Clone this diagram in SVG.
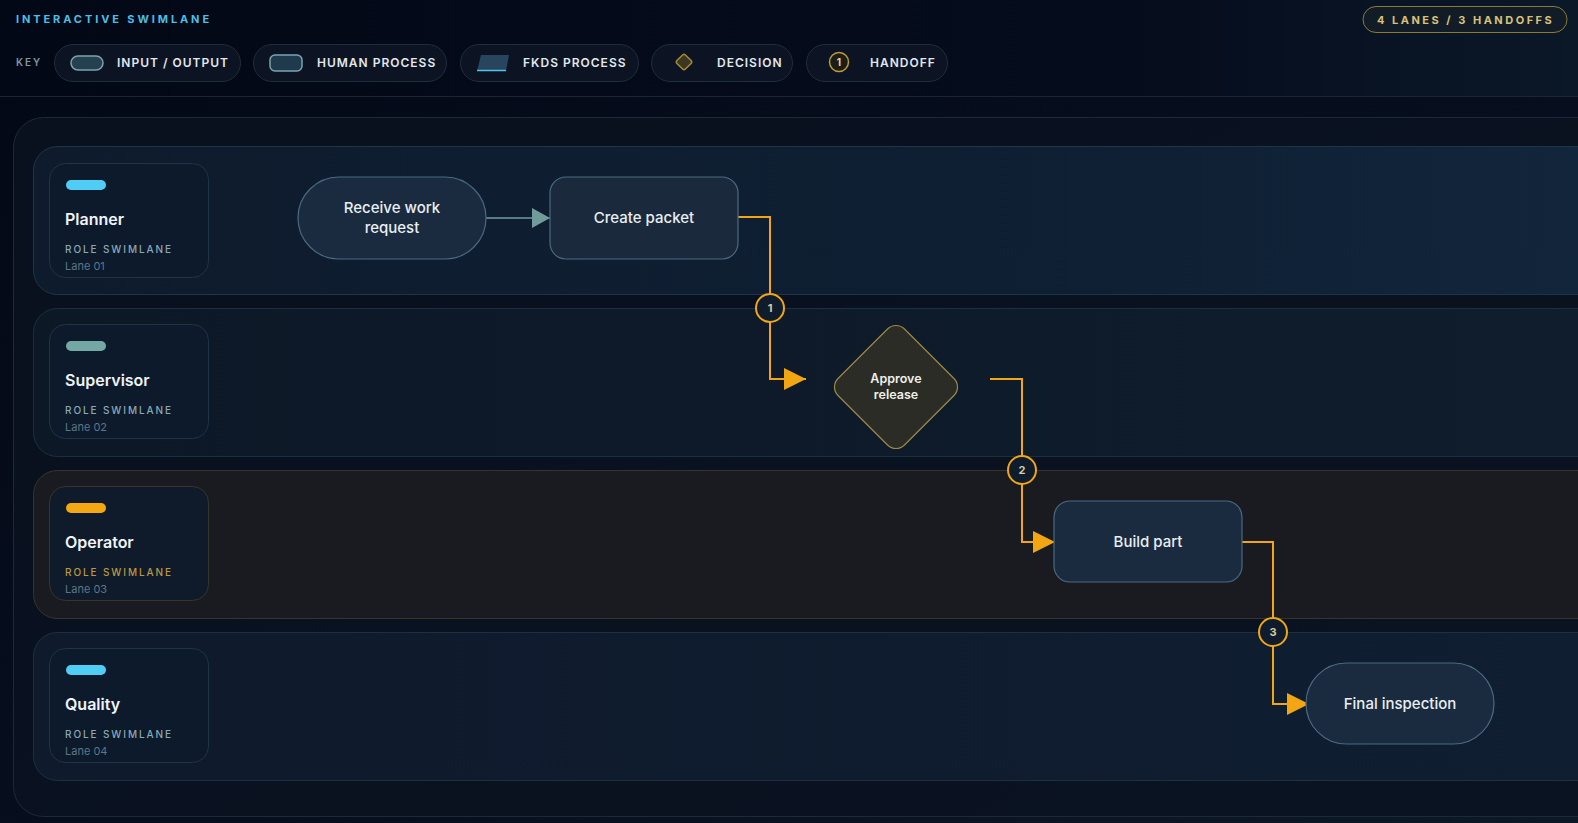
<svg xmlns="http://www.w3.org/2000/svg" width="1578" height="823" viewBox="0 0 1578 823">
<defs>
<linearGradient id="bg" x1="0" y1="0" x2="1" y2="1">
<stop offset="0" stop-color="#030816"/>
<stop offset="0.6" stop-color="#070f1e"/>
<stop offset="1" stop-color="#0d1826"/>
</linearGradient>
<linearGradient id="hdr" x1="0" y1="0" x2="1" y2="0">
<stop offset="0" stop-color="#030816"/>
<stop offset="0.7" stop-color="#050c1c"/>
<stop offset="1" stop-color="#0b1828"/>
</linearGradient>
<linearGradient id="lane1" x1="0" y1="0" x2="1" y2="0">
<stop offset="0" stop-color="#0e1b2d"/>
<stop offset="0.7" stop-color="#0f2034"/>
<stop offset="1" stop-color="#12263c"/>
</linearGradient>
<linearGradient id="lane2" x1="0" y1="0" x2="1" y2="0">
<stop offset="0" stop-color="#0d1827"/>
<stop offset="1" stop-color="#0f1d2c"/>
</linearGradient>
<linearGradient id="lane3" x1="0" y1="0" x2="1" y2="0">
<stop offset="0" stop-color="#191b21"/>
<stop offset="1" stop-color="#1a1b20"/>
</linearGradient>
<linearGradient id="lane4" x1="0" y1="0" x2="1" y2="0">
<stop offset="0" stop-color="#0f1a2c"/>
<stop offset="1" stop-color="#0f1e31"/>
</linearGradient>
<marker id="ah" viewBox="0 0 22 22" refX="22" refY="11" markerWidth="22" markerHeight="22" markerUnits="userSpaceOnUse" orient="auto">
<path d="M0,0 L22,11 L0,22 Z" fill="#f2a611"/>
</marker>
<marker id="ahg" viewBox="0 0 18 20" refX="18" refY="10" markerWidth="18" markerHeight="20" markerUnits="userSpaceOnUse" orient="auto">
<path d="M0,0 L18,10 L0,20 Z" fill="#6f9b9a"/>
</marker>
</defs>
<style>
.hd{font-family:Inter,"Liberation Sans",sans-serif;font-weight:700;font-size:11px;letter-spacing:2.9px;fill:#4cbfe6}
.key{font-family:Inter,"Liberation Sans",sans-serif;font-weight:600;font-size:10px;letter-spacing:2px;fill:#7f95a3}
.pill{fill:#0c1424;stroke:#1f2d3c;stroke-width:1}
.kl{font-family:Inter,"Liberation Sans",sans-serif;font-weight:600;font-size:12px;letter-spacing:1px;fill:#e2e8ee}
.badge{font-family:Inter,"Liberation Sans",sans-serif;font-weight:700;font-size:11px;letter-spacing:2.5px;fill:#d8c27a}
.card{fill:#0d1a2b;stroke:#1e3448;stroke-width:1}
.ttl{font-family:Inter,"Liberation Sans",sans-serif;font-weight:600;font-size:16px;fill:#eef3f7}
.role{font-family:Inter,"Liberation Sans",sans-serif;font-weight:500;font-size:10px;letter-spacing:1.9px;fill:#8aa9b6}
.ln{font-family:Inter,"Liberation Sans",sans-serif;font-size:11px;fill:#5d7687}
.node{fill:#1a2b40;stroke:#4a6a80;stroke-width:1.2}
.nt{font-family:Inter,"Liberation Sans",sans-serif;font-weight:500;font-size:15px;fill:#e8eef2;text-anchor:middle}
.conn{fill:none;stroke:#f2a611;stroke-width:2}
.hc{fill:#0e1c2e;stroke:#f2a611;stroke-width:2}
.ht{font-family:Inter,"Liberation Sans",sans-serif;font-weight:700;font-size:11px;fill:#d8cba0;text-anchor:middle}
</style>
<rect x="0" y="0" width="1578" height="823" fill="url(#bg)"/>
<rect x="0" y="0" width="1578" height="96" fill="url(#hdr)"/>
<line x1="0" y1="96.5" x2="1578" y2="96.5" stroke="#1a2636" stroke-width="1"/>

<g id="header">
<text class="hd" x="16" y="23">INTERACTIVE SWIMLANE</text>
<rect x="1363" y="6.5" width="204" height="26" rx="13" fill="#121c26" stroke="#8a7a3a" stroke-width="1"/>
<text class="badge" x="1377" y="24">4 LANES / 3 HANDOFFS</text>
</g>

<g id="legend">
<text class="key" x="16" y="66">KEY</text>
<rect class="pill" x="54.5" y="44.5" width="186" height="37" rx="18.5"/>
<rect x="71" y="56" width="32" height="14" rx="7" fill="#25404f" stroke="#7aa3b0" stroke-width="1.5"/>
<text class="kl" x="117" y="66.5">INPUT / OUTPUT</text>
<rect class="pill" x="253.5" y="44.5" width="193" height="37" rx="18.5"/>
<rect x="270" y="55" width="32" height="16" rx="5" fill="#1f3a4c" stroke="#7aa3b0" stroke-width="1.5"/>
<text class="kl" x="317" y="66.5">HUMAN PROCESS</text>
<rect class="pill" x="460.5" y="44.5" width="178" height="37" rx="18.5"/>
<polygon points="481,55 509,55 506,71 477,71" fill="#27465e"/>
<line x1="477" y1="70.5" x2="506" y2="70.5" stroke="#4fc3e8" stroke-width="1.5"/>
<text class="kl" x="523" y="66.5">FKDS PROCESS</text>
<rect class="pill" x="651.5" y="44.5" width="141" height="37" rx="18.5"/>
<rect x="678" y="56" width="12" height="12" rx="2" transform="rotate(45 684 62)" fill="#3d3720" stroke="#a08a3a" stroke-width="1.5"/>
<text class="kl" x="717" y="66.5">DECISION</text>
<rect class="pill" x="806.5" y="44.5" width="141" height="37" rx="18.5"/>
<circle cx="839" cy="62" r="9.5" fill="#1e1d15" stroke="#b89a3a" stroke-width="1.5"/>
<text x="839" y="66" font-family="Inter,'Liberation Sans',sans-serif" font-weight="700" font-size="10" fill="#e0d6b0" text-anchor="middle">1</text>
<text class="kl" x="870" y="66.5">HANDOFF</text>
</g>

<rect id="board" x="13.5" y="117.5" width="1620" height="699" rx="30" fill="#0a1321" fill-opacity="0.85" stroke="#1b2a3a" stroke-width="1"/>

<g id="lane-planner">
<rect x="33.5" y="146.5" width="1600" height="148" rx="24" fill="url(#lane1)" stroke="#1e3448"/>
<rect class="card" x="49.5" y="163.5" width="159" height="114" rx="16"/>
<rect x="66" y="180" width="40" height="10" rx="5" fill="#4fcdf5"/>
<text class="ttl" x="65" y="225">Planner</text>
<text class="role" x="65" y="253">ROLE SWIMLANE</text>
<text class="ln" x="65" y="270">Lane 01</text>
</g>
<g id="lane-supervisor">
<rect x="33.5" y="308.5" width="1600" height="148" rx="24" fill="url(#lane2)" stroke="#1b2f42"/>
<rect class="card" x="49.5" y="324.5" width="159" height="114" rx="16"/>
<rect x="66" y="341" width="40" height="10" rx="5" fill="#74a8a4"/>
<text class="ttl" x="65" y="386">Supervisor</text>
<text class="role" x="65" y="414">ROLE SWIMLANE</text>
<text class="ln" x="65" y="431">Lane 02</text>
</g>
<g id="lane-operator">
<rect x="33.5" y="470.5" width="1600" height="148" rx="24" fill="url(#lane3)" stroke="#35352a"/>
<rect class="card" x="49.5" y="486.5" width="159" height="114" rx="16" style="stroke:#38362a;fill:#0f1a2a"/>
<rect x="66" y="503" width="40" height="10" rx="5" fill="#f3a712"/>
<text class="ttl" x="65" y="548">Operator</text>
<text class="role" x="65" y="576" style="fill:#b89a45">ROLE SWIMLANE</text>
<text class="ln" x="65" y="593">Lane 03</text>
</g>
<g id="lane-quality">
<rect x="33.5" y="632.5" width="1600" height="148" rx="24" fill="url(#lane4)" stroke="#1b3044"/>
<rect class="card" x="49.5" y="648.5" width="159" height="114" rx="16"/>
<rect x="66" y="665" width="40" height="10" rx="5" fill="#4fcdf5"/>
<text class="ttl" x="65" y="710">Quality</text>
<text class="role" x="65" y="738">ROLE SWIMLANE</text>
<text class="ln" x="65" y="755">Lane 04</text>
</g>

<g id="connectors">
<line x1="486" y1="218" x2="550" y2="218" stroke="#5b7a88" stroke-width="2" marker-end="url(#ahg)"/>
<polyline class="conn" points="738,217 770,217 770,379 806,379" marker-end="url(#ah)"/>
<polyline class="conn" points="990,379 1022,379 1022,542 1055,542" marker-end="url(#ah)"/>
<polyline class="conn" points="1242,542 1273,542 1273,704 1309,704" marker-end="url(#ah)"/>
</g>

<g id="handoff-1"><circle class="hc" cx="770" cy="308" r="14"/><text class="ht" x="770" y="312">1</text></g>
<g id="handoff-2"><circle class="hc" cx="1022" cy="470" r="14"/><text class="ht" x="1022" y="474">2</text></g>
<g id="handoff-3"><circle class="hc" cx="1273" cy="632" r="14"/><text class="ht" x="1273" y="636">3</text></g>

<g id="node-receive">
<rect class="node" x="298" y="177" width="188" height="82" rx="41"/>
<text class="nt" x="392" y="213">Receive work</text>
<text class="nt" x="392" y="233">request</text>
</g>
<g id="node-create">
<rect class="node" x="550" y="177" width="188" height="82" rx="16" style="fill:#1a2a3c"/>
<text class="nt" x="644" y="223">Create packet</text>
</g>
<g id="node-approve">
<rect x="849" y="340" width="94" height="94" rx="12" transform="rotate(45 896 387)" fill="#2b2c25" stroke="#9a8a45" stroke-width="1.2"/>
<text x="896" y="383" font-family="Inter,'Liberation Sans',sans-serif" font-weight="600" font-size="12.5" fill="#eef0ea" text-anchor="middle">Approve</text>
<text x="896" y="399" font-family="Inter,'Liberation Sans',sans-serif" font-weight="600" font-size="12.5" fill="#eef0ea" text-anchor="middle">release</text>
</g>
<g id="node-build">
<rect class="node" x="1054" y="501" width="188" height="81" rx="16"/>
<text class="nt" x="1148" y="547">Build part</text>
</g>
<g id="node-final">
<rect class="node" x="1306" y="663" width="188" height="81" rx="40.5"/>
<text class="nt" x="1400" y="709">Final inspection</text>
</g>
</svg>
